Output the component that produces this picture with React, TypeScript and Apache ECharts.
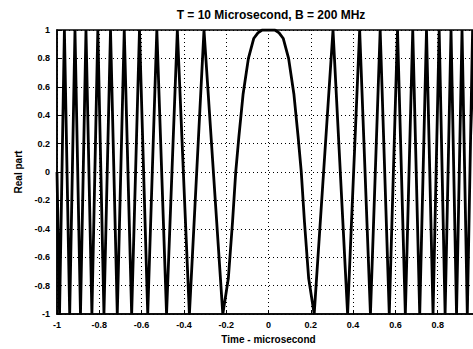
import React, { useEffect, useRef } from "react";
import * as echarts from "echarts";

// Time axis (normalized) and the real part of the LFM pulse at each sample.
const timeUs = [
  -1.0, -0.988, -0.965, -0.94, -0.915, -0.889, -0.863, -0.835, -0.807, -0.778,
  -0.747, -0.715, -0.682, -0.647, -0.61, -0.571, -0.528, -0.482, -0.431, -0.374,
  -0.305, -0.216, -0.19, -0.17, -0.155, -0.14, -0.12, -0.095, -0.07, -0.05,
  -0.03, 0, 0.03, 0.05, 0.07, 0.095, 0.12, 0.14, 0.155, 0.17,
  0.19, 0.216, 0.305, 0.374, 0.431, 0.482, 0.528, 0.571, 0.61, 0.647,
  0.682, 0.715, 0.747, 0.778, 0.807, 0.835, 0.863, 0.889, 0.915, 0.94,
  0.965, 0.988, 1.0,
];
const realPart = [
  0, -1, 1, -1, 1, -1, 1, -1, 1, -1,
  1, -1, 1, -1, 1, -1, 1, -1, 1, -1,
  1, -1, -0.75, -0.35, 0, 0.25, 0.55, 0.8, 0.94, 0.98,
  1, 1, 1, 0.98, 0.94, 0.8, 0.55, 0.25, 0, -0.35,
  -0.75, -1, 1, -1, 1, -1, 1, -1, 1, -1,
  1, -1, 1, -1, 1, -1, 1, -1, 1, -1,
  1, -1, 0,
];

const titleText = "T = 10 Microsecond, B = 200 MHz";
const xName = "Time - microsecond";
const yName = "Real part";

const fmt = (v: number) => {
  const r = Math.round(v * 10) / 10;
  return r === 0 ? "0" : String(r);
};

export default function App() {
  const ref = useRef<HTMLDivElement>(null);

  useEffect(() => {
    if (!ref.current) return;
    const chart = echarts.init(ref.current, undefined, { renderer: "svg" });
    const font = "Liberation Sans, Arial, sans-serif";
    const labelStyle = {
      color: "#000",
      fontSize: 9,
      fontWeight: "bold" as const,
      fontFamily: font,
    };
    chart.setOption({
      animation: false,
      backgroundColor: "#fff",
      title: {
        text: titleText,
        left: 266,
        top: 4,
        textAlign: "center",
        textStyle: {
          color: "#000",
          fontSize: 12,
          fontWeight: "bold",
          fontFamily: font,
        },
      },
      grid: {
        left: 57,
        top: 30,
        right: 10,
        bottom: 31,
        show: true,
        borderColor: "#000",
        borderWidth: 1.5,
        backgroundColor: "#fff",
      },
      xAxis: {
        type: "value",
        min: -1,
        max: 1,
        interval: 0.2,
        name: xName,
        nameLocation: "middle",
        nameGap: 19,
        nameTextStyle: {
          color: "#000",
          fontSize: 10,
          fontWeight: "bold",
          fontFamily: font,
        },
        axisLine: { show: true, onZero: false, lineStyle: { color: "#000", width: 1.5 } },
        axisTick: { show: true, inside: true, length: 4, lineStyle: { color: "#000" } },
        axisLabel: { ...labelStyle, margin: 6, formatter: fmt, showMaxLabel: false },
        splitLine: {
          show: true,
          lineStyle: { color: "#000", type: [1, 3], width: 1 },
        },
      },
      yAxis: {
        type: "value",
        min: -1,
        max: 1,
        interval: 0.2,
        name: yName,
        nameLocation: "middle",
        nameGap: 30,
        nameTextStyle: {
          color: "#000",
          fontSize: 10,
          fontWeight: "bold",
          fontFamily: font,
        },
        axisLine: { show: true, onZero: false, lineStyle: { color: "#000", width: 1.5 } },
        axisTick: { show: true, inside: true, length: 4, lineStyle: { color: "#000" } },
        axisLabel: { ...labelStyle, margin: 7, formatter: fmt },
        splitLine: {
          show: true,
          lineStyle: { color: "#000", type: [1, 3], width: 1 },
        },
      },
      series: [
        {
          type: "line",
          data: timeUs.map((t, i) => [t, realPart[i]]),
          showSymbol: false,
          smooth: false,
          clip: true,
          lineStyle: { color: "#000", width: 2.8 },
        },
      ],
    });
    return () => chart.dispose();
  }, []);

  return (
    <div style={{ position: "fixed", left: 0, top: 0, width: 473, height: 349, overflow: "hidden" }}>
      <div ref={ref} style={{ width: 490, height: 349 }} />
    </div>
  );
}
